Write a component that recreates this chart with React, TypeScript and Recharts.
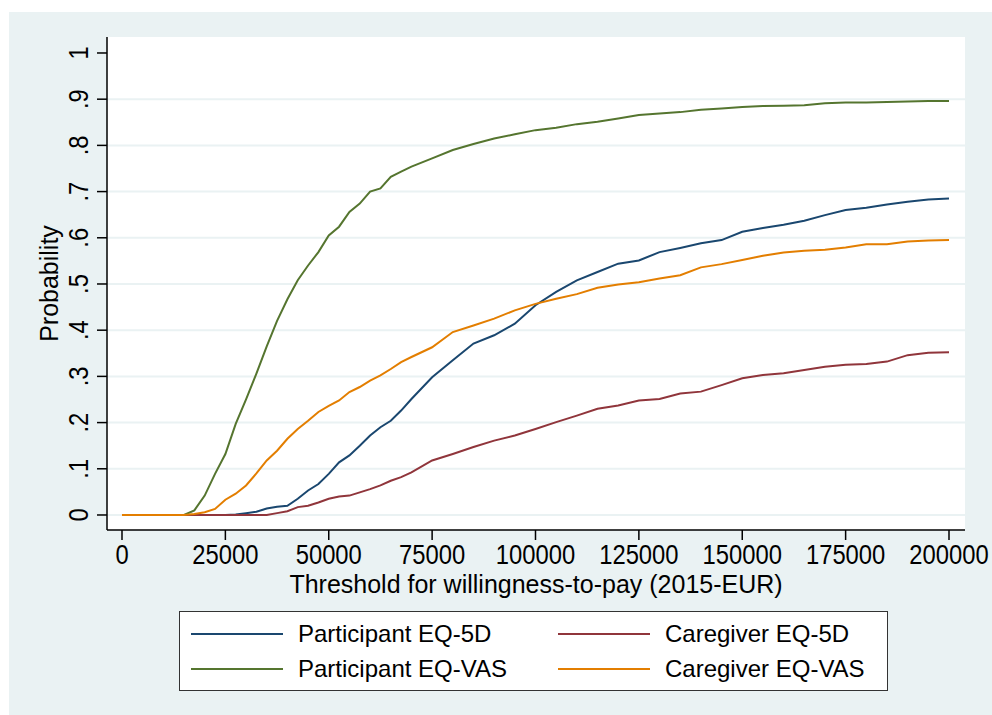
import React from "react";
import { LineChart, Line, XAxis, YAxis, CartesianGrid, ReferenceLine } from "recharts";

const thresholds = [
  0, 2500, 5000, 7500, 10000, 12500, 15000, 17500, 20000, 22500, 25000, 27500, 30000, 32500, 35000,
  37500, 40000, 42500, 45000, 47500, 50000, 52500, 55000, 57500, 60000, 62500, 65000, 67500, 70000,
  75000, 80000, 85000, 90000, 95000, 100000, 105000, 110000, 115000, 120000, 125000, 130000, 135000,
  140000, 145000, 150000, 155000, 160000, 165000, 170000, 175000, 180000, 185000, 190000, 195000, 200000,
];

const participantEQ5D = [
  0, 0, 0, 0, 0, 0, 0, 0, 0, 0, 0, 0.001, 0.004, 0.007, 0.014,
  0.018, 0.02, 0.035, 0.053, 0.067, 0.089, 0.114, 0.129, 0.15, 0.172, 0.19, 0.204, 0.226, 0.251,
  0.298, 0.335, 0.371, 0.389, 0.414, 0.454, 0.483, 0.508, 0.526, 0.544, 0.551, 0.569, 0.578,
  0.588, 0.595, 0.613, 0.621, 0.628, 0.637, 0.649, 0.66, 0.665, 0.672, 0.678, 0.683, 0.685,
];

const participantEQVAS = [
  0, 0, 0, 0, 0, 0, 0, 0.01, 0.042, 0.089, 0.132, 0.197, 0.25, 0.306, 0.365,
  0.42, 0.467, 0.508, 0.54, 0.569, 0.605, 0.624, 0.656, 0.674, 0.7, 0.707, 0.732, 0.743, 0.754,
  0.772, 0.79, 0.803, 0.815, 0.824, 0.833, 0.838, 0.846, 0.851, 0.858, 0.866, 0.869, 0.872,
  0.877, 0.88, 0.883, 0.885, 0.886, 0.887, 0.891, 0.893, 0.893, 0.894, 0.895, 0.896, 0.896,
];

const caregiverEQ5D = [
  0, 0, 0, 0, 0, 0, 0, 0, 0, 0, 0, 0, 0, 0, 0,
  0.004, 0.008, 0.017, 0.02, 0.027, 0.035, 0.04, 0.042, 0.049, 0.056, 0.064, 0.074, 0.082, 0.092,
  0.118, 0.132, 0.147, 0.161, 0.172, 0.186, 0.201, 0.215, 0.23, 0.237, 0.248, 0.251, 0.263,
  0.267, 0.281, 0.296, 0.303, 0.307, 0.314, 0.321, 0.325, 0.327, 0.332, 0.346, 0.351, 0.352,
];

const caregiverEQVAS = [
  0, 0, 0, 0, 0, 0, 0, 0.002, 0.006, 0.013, 0.033, 0.046, 0.064, 0.09, 0.118,
  0.139, 0.165, 0.186, 0.204, 0.223, 0.236, 0.248, 0.266, 0.277, 0.291, 0.302, 0.316, 0.331, 0.342,
  0.363, 0.396, 0.41, 0.425, 0.443, 0.457, 0.468, 0.478, 0.492, 0.499, 0.504, 0.512, 0.519,
  0.536, 0.543, 0.552, 0.561, 0.568, 0.572, 0.574, 0.579, 0.586, 0.586, 0.592, 0.594, 0.595,
];

const xTicks = [0, 25000, 50000, 75000, 100000, 125000, 150000, 175000, 200000];
const yTicks = [0, 0.1, 0.2, 0.3, 0.4, 0.5, 0.6, 0.7, 0.8, 0.9, 1];
const gridValues = [0, 0.1, 0.2, 0.3, 0.4, 0.5, 0.6, 0.7, 0.8, 0.9];

const seriesNames = ["Participant EQ-5D", "Caregiver EQ-5D", "Participant EQ-VAS", "Caregiver EQ-VAS"];
const seriesKeys = ["p5d", "c5d", "pvas", "cvas"];
const seriesColors = ["#1a476f", "#90353b", "#55752f", "#e37e00"];

const data = thresholds.map((x, i) => ({
  x,
  p5d: participantEQ5D[i],
  pvas: participantEQVAS[i],
  c5d: caregiverEQ5D[i],
  cvas: caregiverEQVAS[i],
}));

const FONT = "'Liberation Sans', Arial, Helvetica, sans-serif";
const BG = "#eaf2f3";

const fmtY = (v: number) => {
  if (v === 0) return "0";
  if (v === 1) return "1";
  return "." + Math.round(v * 10);
};

const XTick = (props: any) => {
  const { x, y, payload } = props;
  return (
    <g transform={`translate(${x},${y + 24}) scale(0.85,1)`}>
      <text x={0} y={0} textAnchor="middle" fontSize={28} fontFamily={FONT} fill="#000">
        {String(payload.value)}
      </text>
    </g>
  );
};

const YTick = (props: any) => {
  const { x, y, payload } = props;
  return (
    <g transform={`translate(${x - 9},${y}) rotate(-90) scale(0.85,1)`}>
      <text x={0} y={0} textAnchor="middle" fontSize={28} fontFamily={FONT} fill="#000">
        {fmtY(payload.value)}
      </text>
    </g>
  );
};

const LegendBox = () => {
  const order = [0, 1, 2, 3];
  return (
    <div
      style={{
        position: "absolute",
        left: 179,
        top: 611,
        width: 709,
        height: 80,
        background: "#fff",
        border: "1px solid #333",
        boxSizing: "border-box",
        fontFamily: FONT,
        fontSize: 24,
        color: "#000",
      }}
    >
      {order.map((i) => {
        const col = i % 2;
        const row = Math.floor(i / 2);
        const left = col === 0 ? 11 : 378;
        const top = row === 0 ? 22 : 57;
        return (
          <div key={i} style={{ position: "absolute", left, top: top - 14, height: 28, display: "flex", alignItems: "center" }}>
            <div style={{ width: 92, height: 0, borderTop: `2px solid ${seriesColors[i]}` }} />
            <span style={{ marginLeft: 15, whiteSpace: "nowrap", lineHeight: "28px" }}>{seriesNames[i]}</span>
          </div>
        );
      })}
    </div>
  );
};

export default function App() {
  return (
    <div style={{ position: "absolute", left: 0, top: 0, width: 992, height: 715, background: "#fff", overflow: "hidden" }}>
      <div style={{ position: "absolute", left: 9, top: 12, width: 983, height: 703, background: BG }} />
      <div style={{ position: "absolute", left: 0, top: 0 }}>
        <LineChart width={992} height={715} data={data} margin={{ top: 37, right: 27, bottom: 125, left: 47 }}>
          <CartesianGrid horizontal={false} vertical={false} fill="#ffffff" />
          {gridValues.map((v) => (
            <ReferenceLine key={v} y={v} stroke={BG} strokeWidth={2} ifOverflow="hidden" />
          ))}
          <XAxis
            type="number"
            dataKey="x"
            domain={[-3627, 203870]}
            ticks={xTicks}
            allowDataOverflow
            height={60}
            tickSize={10}
            tickMargin={0}
            axisLine={{ stroke: "#000", strokeWidth: 1.5 }}
            tickLine={{ stroke: "#000", strokeWidth: 1.5 }}
            tick={<XTick />}
            interval={0}
            label={{
              content: (p: any) => {
                const vb = p.viewBox || { x: 107, y: 530, width: 858 };
                return (
                  <text x={vb.x + vb.width / 2} y={vb.y + 63} textAnchor="middle" fontSize={25} fontFamily={FONT} fill="#000">
                    Threshold for willingness-to-pay (2015-EUR)
                  </text>
                );
              },
            }}
          />
          <YAxis
            type="number"
            domain={[-0.0325, 1.0346]}
            ticks={yTicks}
            allowDataOverflow
            width={60}
            tickSize={10}
            tickMargin={0}
            axisLine={{ stroke: "#000", strokeWidth: 1.5 }}
            tickLine={{ stroke: "#000", strokeWidth: 1.5 }}
            tick={<YTick />}
            interval={0}
            label={{
              content: (p: any) => {
                const vb = p.viewBox || { x: 47, y: 37, width: 60, height: 493 };
                const cx = 58;
                const cy = vb.y + vb.height / 2;
                return (
                  <text x={cx} y={cy} transform={`rotate(-90, ${cx}, ${cy})`} textAnchor="middle" fontSize={25} fontFamily={FONT} fill="#000">
                    Probability
                  </text>
                );
              },
            }}
          />
          {seriesKeys.map((k, i) => (
            <Line
              key={k}
              type="linear"
              dataKey={k}
              name={seriesNames[i]}
              stroke={seriesColors[i]}
              strokeWidth={2}
              dot={false}
              activeDot={false}
              isAnimationActive={false}
            />
          ))}
        </LineChart>
      </div>
      <LegendBox />
    </div>
  );
}
